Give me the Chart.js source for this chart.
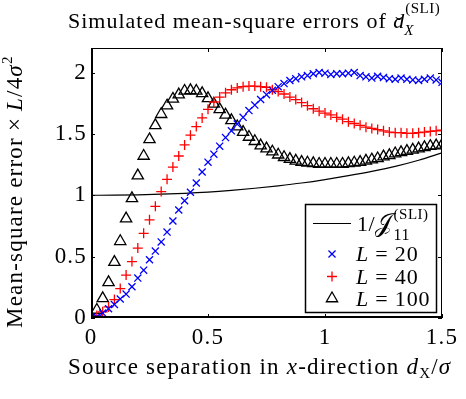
<!DOCTYPE html>
<html>
<head>
<meta charset="utf-8">
<script src="https://cdn.jsdelivr.net/npm/chart.js@4.4.0/dist/chart.umd.min.js"></script>
<style>
  body { margin: 0; background: #fff; }
  #wrap { width: 466px; height: 399px; }
</style>
</head>
<body>
<div id="wrap"><canvas id="mse" width="466" height="399"></canvas></div>
<script>
// source separation d_X / sigma for the simulated points
const sep = [0, 0.025, 0.05, 0.075, 0.1, 0.125, 0.15, 0.175, 0.2, 0.225,
  0.25, 0.275, 0.3, 0.325, 0.35, 0.375, 0.4, 0.425, 0.45, 0.475,
  0.5, 0.525, 0.55, 0.575, 0.6, 0.625, 0.65, 0.675, 0.7, 0.725,
  0.75, 0.775, 0.8, 0.825, 0.85, 0.875, 0.9, 0.925, 0.95, 0.975,
  1.0, 1.025, 1.05, 1.075, 1.1, 1.125, 1.15, 1.175, 1.2, 1.225,
  1.25, 1.275, 1.3, 1.325, 1.35, 1.375, 1.4, 1.425, 1.45, 1.475, 1.5];

// normalised MSE for each sample size L
const mseL20 = [0, 0.01, 0.04, 0.075, 0.11, 0.155, 0.195, 0.255, 0.325, 0.39,
  0.475, 0.545, 0.62, 0.70, 0.79, 0.88, 0.955, 1.025, 1.10, 1.19,
  1.27, 1.335, 1.40, 1.47, 1.525, 1.58, 1.635, 1.69, 1.735, 1.78,
  1.82, 1.855, 1.885, 1.91, 1.935, 1.95, 1.965, 1.975, 1.99, 2.0,
  1.995, 1.985, 1.99, 1.99, 1.995, 2.0, 1.975, 1.965, 1.955, 1.97,
  1.96, 1.95, 1.945, 1.955, 1.945, 1.94, 1.935, 1.945, 1.955, 1.94, 1.92];

const mseL40 = [0, 0.02, 0.05, 0.09, 0.15, 0.24, 0.35, 0.46, 0.57, 0.69,
  0.80, 0.91, 1.03, 1.13, 1.23, 1.32, 1.41, 1.49, 1.56, 1.63,
  1.70, 1.76, 1.80, 1.835, 1.86, 1.875, 1.885, 1.89, 1.89, 1.885,
  1.88, 1.86, 1.845, 1.825, 1.80, 1.78, 1.755, 1.73, 1.705, 1.685,
  1.67, 1.655, 1.635, 1.62, 1.60, 1.585, 1.57, 1.555, 1.545, 1.535,
  1.525, 1.515, 1.51, 1.51, 1.505, 1.505, 1.51, 1.515, 1.52, 1.525, 1.53];

const mseL100 = [0.005, 0.065, 0.16, 0.29, 0.455, 0.625, 0.81, 0.975, 1.16, 1.32,
  1.455, 1.57, 1.66, 1.73, 1.785, 1.82, 1.85, 1.855, 1.85, 1.83,
  1.79, 1.745, 1.70, 1.655, 1.61, 1.56, 1.515, 1.475, 1.44, 1.405,
  1.38, 1.355, 1.33, 1.31, 1.295, 1.28, 1.27, 1.265, 1.26, 1.255,
  1.255, 1.255, 1.255, 1.255, 1.26, 1.265, 1.27, 1.28, 1.29, 1.30,
  1.315, 1.325, 1.34, 1.35, 1.36, 1.37, 1.38, 1.39, 1.40, 1.405, 1.41];

// inverse Fisher information 1/J11 (SLI)
const boundSep = [0, 0.1, 0.2, 0.3, 0.4, 0.5, 0.6, 0.7, 0.8, 0.9, 1.0, 1.1, 1.2, 1.3, 1.4, 1.5];
const boundVal = [1.0, 1.001, 1.004, 1.009, 1.016, 1.026, 1.04, 1.057, 1.077, 1.10,
  1.128, 1.16, 1.195, 1.235, 1.285, 1.345];

const xTicks = [0, 0.5, 1, 1.5];
const yTicks = [0, 0.5, 1, 1.5, 2];

const SERIF = '"Liberation Serif", "DejaVu Serif", serif';
const font = (size, italic) => (italic ? 'italic ' : '') + size + 'px ' + SERIF;
const pts = (xs, ys) => xs.map((x, i) => ({ x: x, y: ys[i] }));

// draws a sequence of text pieces left to right, returns end x
function run(ctx, x, y, size, ls, parts) {
  ctx.letterSpacing = ls + 'px';
  for (const p of parts) {
    ctx.font = font(p.size || size, p.it);
    x += p.dx || 0;
    ctx.fillText(p.t, x, y + (p.dy || 0));
    x += ctx.measureText(p.t).width;
  }
  ctx.letterSpacing = '0px';
  return x;
}

const marks = {
  l20: { pointStyle: 'crossRot', radius: 5, borderWidth: 1.3, color: '#0000ff' },
  l40: { pointStyle: 'cross', radius: 5, borderWidth: 1.3, color: '#ff0000' },
  l100: { pointStyle: 'triangle', radius: 6.5, borderWidth: 1.3, color: '#000000' }
};

const frame = {
  id: 'frame',
  beforeDraw(chart) {
    // wider tracking for tick labels
    chart.ctx.letterSpacing = '1.2px';
  },
  beforeDatasetsDraw(chart) {
    chart.ctx.letterSpacing = '0px';
  },
  afterDraw(chart) {
    const { ctx, chartArea: a, scales } = chart;
    const sx = scales.x, sy = scales.y;
    ctx.save();
    ctx.strokeStyle = '#000';
    ctx.fillStyle = '#000';

    // axes box
    ctx.lineWidth = 1;
    ctx.strokeRect(a.left + 0.5, a.top + 0.5, a.right - a.left - 1, a.bottom - a.top - 1);
    ctx.lineWidth = 2;
    ctx.beginPath();
    ctx.moveTo(a.left, a.bottom - 1);
    ctx.lineTo(a.right, a.bottom - 1);
    ctx.moveTo(a.left + 1, a.top);
    ctx.lineTo(a.left + 1, a.bottom);
    ctx.stroke();

    // inward tick marks on all four sides
    ctx.lineWidth = 1;
    ctx.beginPath();
    for (const v of xTicks) {
      const px = Math.round(sx.getPixelForValue(v)) + 0.5;
      ctx.moveTo(px, a.bottom); ctx.lineTo(px, a.bottom - 4);
      ctx.moveTo(px, a.top); ctx.lineTo(px, a.top + 4);
    }
    for (const v of yTicks) {
      const py = Math.round(sy.getPixelForValue(v)) + 0.5;
      ctx.moveTo(a.left, py); ctx.lineTo(a.left + 4, py);
      ctx.moveTo(a.right, py); ctx.lineTo(a.right - 4, py);
    }
    ctx.stroke();

    ctx.textBaseline = 'alphabetic';
    ctx.textAlign = 'left';

    // title
    const tx = run(ctx, 68, 28, 22, 1, [{ t: 'Simulated mean-square errors of ' }]);
    ctx.font = font(22, true);
    const dW = ctx.measureText('d').width;
    run(ctx, tx, 28, 22, 0, [{ t: 'd', it: true }]);
    run(ctx, tx + 2, 32, 22, 0, [{ t: '\u02C7' }]);
    run(ctx, tx + dW, 35, 15, 0, [{ t: 'X', it: true }]);
    run(ctx, tx + dW + 1, 13, 15, 0.5, [{ t: '(SLI)' }]);

    // x-axis label
    run(ctx, 68, 374, 23, 1.2, [
      { t: 'Source separation in ' },
      { t: 'x', it: true },
      { t: '-direction ' },
      { t: 'd', it: true },
      { t: 'X', size: 15, dy: 4 },
      { t: '/' },
      { t: '\u03C3', it: true }
    ]);

    // y-axis label, rotated
    ctx.save();
    ctx.translate(22, 328);
    ctx.rotate(-Math.PI / 2);
    run(ctx, 0, 0, 23, 1.2, [
      { t: 'Mean-square error' },
      { t: '\u00D7', dx: 6 },
      { t: 'L', it: true, dx: 6 },
      { t: '/4' },
      { t: '\u03C3', it: true },
      { t: '2', size: 15, dy: -10 }
    ]);
    ctx.restore();

    // legend
    const lx = 305, ly = 204, lw = 131, lh = 108;
    ctx.fillStyle = '#fff';
    ctx.fillRect(lx, ly, lw, lh);
    ctx.strokeStyle = '#000';
    ctx.lineWidth = 1.5;
    ctx.strokeRect(lx + 0.5, ly + 0.5, lw, lh);
    ctx.fillStyle = '#000';

    ctx.lineWidth = 1.2;
    ctx.beginPath();
    ctx.moveTo(313, 223.5); ctx.lineTo(351, 223.5);
    ctx.stroke();
    const ex = run(ctx, 357, 231, 22, 0.5, [{ t: '1/' }, { t: '\uD835\uDCA5', size: 25 }]);
    run(ctx, ex + 1, 219, 15, 0.5, [{ t: '(SLI)' }]);
    run(ctx, ex + 1, 240, 16, 0.5, [{ t: '11' }]);

    const rows = [
      { m: marks.l20, y: 254, label: '20' },
      { m: marks.l40, y: 276.5, label: '40' },
      { m: marks.l100, y: 298.5, label: '100' }
    ];
    for (const r of rows) {
      ctx.strokeStyle = r.m.color;
      ctx.fillStyle = 'rgba(0,0,0,0)';
      ctx.lineWidth = r.m.borderWidth;
      Chart.helpers.drawPoint(ctx, { pointStyle: r.m.pointStyle, radius: r.m.radius, borderWidth: r.m.borderWidth, rotation: 0 }, 332, r.y);
      ctx.fillStyle = '#000';
      run(ctx, 356, r.y + 7, 22, 0.8, [{ t: 'L', it: true }, { t: ' = ' + r.label }]);
    }
    ctx.restore();
  }
};

const scatterSet = (label, ys, m) => ({
  type: 'scatter',
  label: label,
  data: pts(sep, ys),
  pointStyle: m.pointStyle,
  pointRadius: m.radius,
  pointBorderWidth: m.borderWidth,
  pointBorderColor: m.color,
  pointBackgroundColor: 'rgba(0,0,0,0)',
  showLine: false
});

new Chart(document.getElementById('mse').getContext('2d'), {
  type: 'scatter',
  data: {
    datasets: [
      scatterSet('L = 20', mseL20, marks.l20),
      scatterSet('L = 40', mseL40, marks.l40),
      scatterSet('L = 100', mseL100, marks.l100),
      {
        type: 'line',
        label: '1/J11 (SLI)',
        data: pts(boundSep, boundVal),
        borderColor: '#000',
        borderWidth: 1.2,
        pointRadius: 0,
        fill: false,
        cubicInterpolationMode: 'monotone'
      }
    ]
  },
  plugins: [frame],
  options: {
    responsive: false,
    animation: false,
    layout: { padding: { top: 48, right: 24, left: 0, bottom: 0 } },
    plugins: { legend: { display: false }, tooltip: { enabled: false }, title: { display: false } },
    scales: {
      x: {
        type: 'linear', min: 0, max: 1.5,
        grid: { display: false, drawTicks: false },
        border: { display: false },
        afterBuildTicks: s => { s.ticks = xTicks.map(v => ({ value: v })); },
        afterFit: s => { s.height = 81; },
        ticks: { color: '#000', font: { family: SERIF, size: 23 }, padding: 6, maxRotation: 0, autoSkip: false,
          callback: v => String(v) }
      },
      y: {
        type: 'linear', min: 0, max: 2.2,
        grid: { display: false, drawTicks: false },
        border: { display: false },
        afterBuildTicks: s => { s.ticks = yTicks.map(v => ({ value: v })); },
        afterFit: s => { s.width = 91; },
        ticks: { color: '#000', font: { family: SERIF, size: 23 }, padding: 4, autoSkip: false,
          callback: v => String(v) }
      }
    }
  }
});
</script>
</body>
</html>
